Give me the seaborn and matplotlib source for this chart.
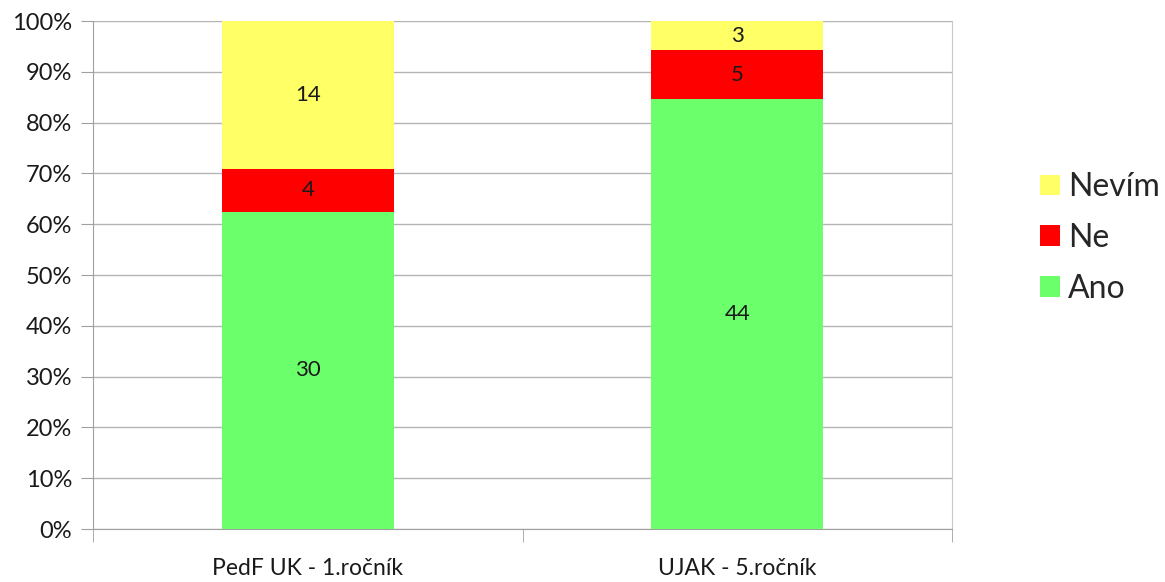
import matplotlib
matplotlib.use("Agg")
from matplotlib import pyplot as plt
from matplotlib.patches import Patch
from matplotlib.ticker import PercentFormatter, FixedLocator
import seaborn as sns
import pandas as pd

categories = ["PedF UK - 1.ročník", "UJAK - 5.ročník"]
ano = [30, 44]
ne = [4, 5]
nevim = [14, 3]

series_names = ["Ano", "Ne", "Nevím"]
series_colors = {"Ano": "#6cff6c", "Ne": "#ff0000", "Nevím": "#ffff66"}

sns.set_style("white")
plt.rcParams['font.family'] = ['Lato', 'DejaVu Sans']

df = pd.DataFrame({"cat": categories, "Ano": ano, "Ne": ne, "Nevím": nevim})
df["total"] = df["Ano"] + df["Ne"] + df["Nevím"]
# cumulative percentages, drawn back to front to get the stacked look
df["c_ano"] = df["Ano"] / df["total"] * 100
df["c_ne"] = (df["Ano"] + df["Ne"]) / df["total"] * 100
df["c_nevim"] = 100.0

fig = plt.figure(figsize=(11.65, 5.82), dpi=100)
ax = fig.add_axes([93 / 1165, 1 - 529 / 582, (952 - 93) / 1165, (529 - 21) / 582])

for col, name in [("c_nevim", "Nevím"), ("c_ne", "Ne"), ("c_ano", "Ano")]:
    sns.barplot(data=df, x="cat", y=col, color=series_colors[name], width=0.4,
                saturation=1, ax=ax, zorder=3, linewidth=0)

# segment labels
for i, row in df.iterrows():
    lows = [0, row["c_ano"], row["c_ne"]]
    highs = [row["c_ano"], row["c_ne"], row["c_nevim"]]
    for name, lo, hi in zip(series_names, lows, highs):
        ax.text(i, (lo + hi) / 2, str(row[name]), ha="center", va="center",
                fontsize=16, color="#1a1a1a", zorder=4)

ax.set_xlim(-0.5, 1.5)
ax.set_ylim(0, 100)
ax.set_yticks(range(0, 101, 10))
ax.yaxis.set_major_formatter(PercentFormatter(decimals=0))
ax.grid(axis="y", color="#b4b4b4", linewidth=1, zorder=0)
ax.set_axisbelow(True)
ax.set_xlabel("")
ax.set_ylabel("")

for side in ["left", "right", "bottom"]:
    ax.spines[side].set_visible(True)
    ax.spines[side].set_color("#a0a0a0")
ax.spines["top"].set_visible(False)
ax.spines["right"].set_color("#c8c8c8")

ax.tick_params(axis="y", which="major", direction="out", length=9, color="#a0a0a0",
               labelsize=17, labelcolor="#1a1a1a", left=True, pad=6)
ax.tick_params(axis="x", which="major", length=0, labelsize=16.5, labelcolor="#1a1a1a", pad=21)
ax.xaxis.set_minor_locator(FixedLocator([-0.5, 0.5, 1.5]))
ax.tick_params(axis="x", which="minor", direction="out", length=9, color="#a0a0a0", bottom=True)

handles = [Patch(facecolor=series_colors[n], edgecolor="none") for n in ["Nevím", "Ne", "Ano"]]
fig.legend(handles, ["Nevím", "Ne", "Ano"], loc="center left",
           bbox_to_anchor=(1011 / 1165, 1 - 238 / 582), frameon=False,
           fontsize=23, handlelength=0.63, handleheight=0.63, handletextpad=0.25,
           labelspacing=0.65)

fig.savefig("out.png", dpi=100)
